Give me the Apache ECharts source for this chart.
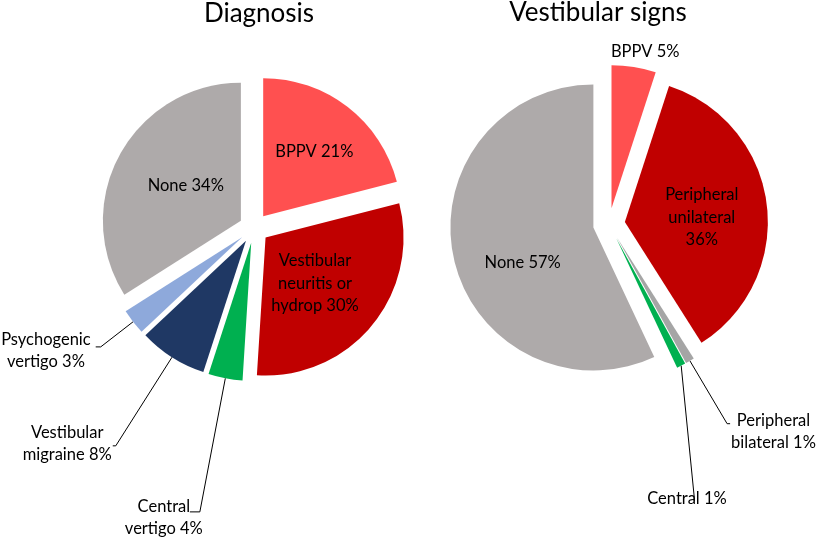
<!DOCTYPE html>
<html><head><meta charset="utf-8">
<script src="https://cdn.jsdelivr.net/npm/echarts@6/dist/echarts.min.js"></script>
<style>html,body{margin:0;padding:0;background:#fff}#c{width:830px;height:538px}</style>
</head><body><div id="c"></div>
<script>
// ---- Data: Diagnosis ----
const diagNames = ['BPPV', 'Vestibular neuritis or hydrop', 'Central vertigo', 'Vestibular migraine', 'Psychogenic vertigo', 'None'];
const diagLabelText = ['BPPV', 'Vestibular\nneuritis or\nhydrop', 'Central\nvertigo', 'Vestibular\nmigraine', 'Psychogenic\nvertigo', 'None'];
const diagValues = [21, 30, 4, 8, 3, 34];
const diagColors = ['#FF5050', '#C00000', '#00B050', '#1F3864', '#8EA9DB', '#AEAAAA'];

// ---- Data: Vestibular signs ----
const signNames = ['BPPV', 'Peripheral unilateral', 'Peripheral bilateral', 'Central', 'None'];
const signLabelText = ['BPPV', 'Peripheral\nunilateral\n', 'Peripheral\nbilateral', 'Central', 'None'];
const signValues = [5, 36, 1, 1, 57];
const signColors = ['#FF5050', '#C00000', '#A5A5A5', '#00B050', '#AEAAAA'];

const FONT = 'Lato';
const FS = 16.5;
const LH = 22.5;

// per-slice label styling (position, leader-line lengths, gap to line, small text nudges)
const diagLabelCfg = [
  {position: 'inside', shift: [7, -8]},
  {position: 'inside', shift: [-6, 0]},
  {position: 'outside', line: [136, 10], gap: -13, shift: [0, 6]},
  {position: 'outside', line: [105, 3], gap: 1, shift: [0, -2]},
  {position: 'outside', line: [41, 5], gap: 5, shift: [0, 4]},
  {position: 'inside', shift: [8, 0]}
];
const signLabelCfg = [
  {position: 'outside', line: [15, 0], hideLine: true, shift: [4, 0]},
  {position: 'inside', shift: [3, 5]},
  {position: 'outside', line: [73, 3], gap: 1, shift: [0, 8]},
  {position: 'outside', line: [20, 4], free: true},
  {position: 'inside', shift: [2, 19]}
];
// anchor (top-centre) of the free-standing "Central 1%" label
const centralLabelAnchor = [687, 487];

const TRANSPARENT = 'rgba(0,0,0,0)';

function richStyle(color) {
  return {c: {fontFamily: FONT, fontSize: FS, lineHeight: LH, color: color, align: 'center'}};
}

function buildData(names, values, colors, cfgs, opts) {
  opts = opts || {};
  return names.map((n, i) => {
    const c = cfgs[i];
    const item = {
      name: n, value: values[i], selected: !opts.overlay,
      itemStyle: {color: opts.overlay ? TRANSPARENT : colors[i]},
      label: {position: c.position}
    };
    if (c.shift && !c.free) {
      const [dx, dy] = c.shift;
      item.label.padding = [Math.max(0, 2 * dy), Math.max(0, -2 * dx), Math.max(0, -2 * dy), Math.max(0, 2 * dx)];
    }
    if (c.gap != null) item.label.distanceToLabelLine = c.gap;
    if (c.position === 'outside') {
      item.label.overflow = 'none';
      item.labelLine = {show: !c.hideLine && !opts.overlay, length: c.line[0], length2: c.line[1],
        lineStyle: {color: '#000', width: 1}};
    }
    if (opts.overlay) {
      item.label.show = !!c.free;
    } else if (c.free) {
      item.label.rich = richStyle(TRANSPARENT);
    }
    return item;
  });
}
function fmt(textArr) {
  return p => {
    const t = textArr[p.dataIndex];
    const s = t + (t.endsWith('\n') ? '' : ' ') + p.value + '%';
    return s.split('\n').map(line => '{c|' + line + '}').join('\n');
  };
}
function freeLayout(cfgs) {
  return params => {
    if (cfgs[params.dataIndex].free) {
      return {x: centralLabelAnchor[0], y: centralLabelAnchor[1], align: 'center', verticalAlign: 'top'};
    }
    if (params.dataIndex === 0) return {align: 'center'};
    return {};
  };
}

const baseLabel = {fontFamily: FONT, fontSize: FS, color: '#000', lineHeight: LH, bleedMargin: 0,
  overflow: 'none', rich: richStyle('#000')};

const chart = echarts.init(document.getElementById('c'), null, {renderer: 'canvas'});
chart.setOption({
  animation: false,
  backgroundColor: '#fff',
  title: [
    {text: 'Diagnosis', left: 259, top: 1, textAlign: 'center', padding: 0,
      textStyle: {fontFamily: FONT, fontSize: 26, fontWeight: 'normal', color: '#000'}},
    {text: 'Vestibular signs', left: 598, top: 0, textAlign: 'center', padding: 0,
      textStyle: {fontFamily: FONT, fontSize: 26, fontWeight: 'normal', color: '#000'}}
  ],
  series: [
    {
      type: 'pie', center: [254, 228], radius: 138, startAngle: 90, clockwise: true,
      selectedMode: 'multiple', selectedOffset: 15, avoidLabelOverlap: false,
      emphasis: {disabled: true},
      label: Object.assign({}, baseLabel, {formatter: fmt(diagLabelText)}),
      data: buildData(diagNames, diagValues, diagColors, diagLabelCfg)
    },
    {
      type: 'pie', center: [609, 224], radius: 143, startAngle: 90, clockwise: true,
      selectedMode: 'multiple', selectedOffset: 16, avoidLabelOverlap: false,
      emphasis: {disabled: true},
      label: Object.assign({}, baseLabel, {formatter: fmt(signLabelText)}),
      labelLayout: freeLayout(signLabelCfg),
      data: buildData(signNames, signValues, signColors, signLabelCfg)
    },
    {
      // overlay carrying only the free-standing label (same geometry, invisible sectors)
      type: 'pie', center: [609, 224], radius: 143, startAngle: 90, clockwise: true,
      silent: true, avoidLabelOverlap: false, emphasis: {disabled: true},
      label: Object.assign({}, baseLabel, {formatter: fmt(signLabelText)}),
      labelLine: {show: false},
      labelLayout: freeLayout(signLabelCfg),
      data: buildData(signNames, signValues, signColors, signLabelCfg, {overlay: true})
    }
  ]
});
</script>
</body></html>
